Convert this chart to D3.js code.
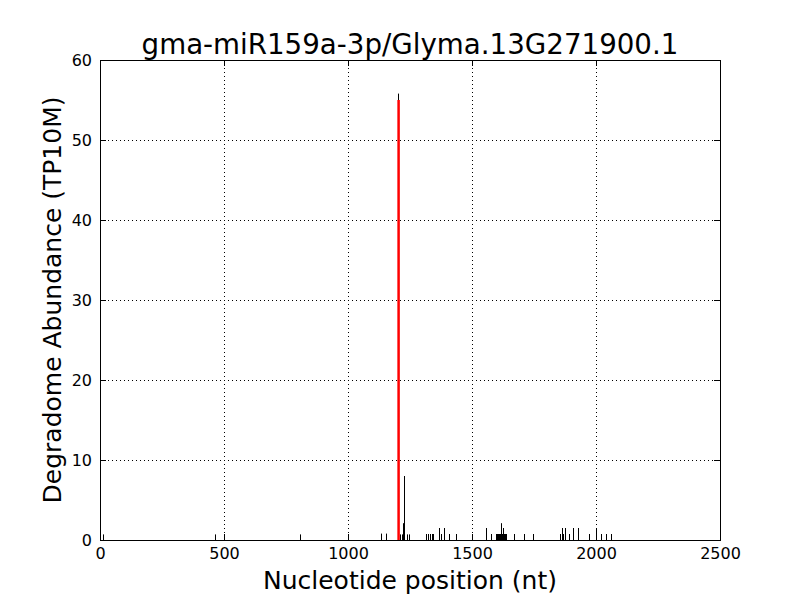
<!DOCTYPE html>
<html>
<head>
<meta charset="utf-8">
<script src="https://cdn.jsdelivr.net/npm/d3@7"></script>
<style>
  body { margin: 0; background: #fff; }
  text { font-family: "DejaVu Sans", sans-serif; fill: #000; }
</style>
</head>
<body>
<div id="chart"></div>
<script>
const TITLE = "gma-miR159a-3p/Glyma.13G271900.1";
const X_LABEL = "Nucleotide position (nt)";
const Y_LABEL = "Degradome Abundance (TP10M)";

const xTicks = [0, 500, 1000, 1500, 2000, 2500];
const yTicks = [0, 10, 20, 30, 40, 50, 60];

// degradome read positions (nt) and abundance (TP10M)
const positions = [12, 464, 806, 1133, 1152, 1202, 1210, 1218, 1222, 1225, 1227, 1237, 1247,
    1315, 1323, 1331, 1339, 1344, 1367, 1375, 1387, 1407, 1434,
    1556, 1577, 1597, 1601, 1605, 1609, 1613, 1617, 1621, 1626, 1630, 1634, 1638,
    1669, 1711, 1747, 1855, 1862, 1867, 1875, 1892, 1907, 1927, 1970, 2002, 2020, 2042, 2060];
const abundance = [0.7, 0.7, 0.7, 0.8, 0.8, 55.8, 0.7, 0.7, 2.1, 3.5, 8.0, 0.7, 0.7,
    0.75, 0.75, 0.75, 0.75, 0.75, 1.5, 0.75, 1.5, 0.75, 0.75,
    1.5, 0.75, 0.75, 0.75, 0.75, 0.75, 0.75, 2.1, 0.75, 1.5, 0.75, 0.75, 0.75,
    0.75, 0.75, 0.75, 0.75, 1.5, 0.75, 1.5, 0.75, 1.5, 1.5, 0.75, 1.5, 0.75, 0.75, 0.75];

// predicted cleavage site
const sitePos = [1202];
const siteVal = [55];

const MARGIN = {top: 60, left: 100};
const width = 620, height = 480;

const root = d3.select("#chart").append("svg")
    .attr("width", 800)
    .attr("height", 600);

const svg = root.append("g")
    .attr("transform", "translate(" + MARGIN.left + "," + MARGIN.top + ")");

const x = d3.scaleLinear().domain([0, 2500]).range([0, width]);
const y = d3.scaleLinear().domain([0, 60]).range([height, 0]);

// grid
svg.append("g").selectAll("line")
    .data(xTicks.slice(1, -1))
    .enter().append("line")
    .attr("x1", d => Math.round(x(d)) + 0.5).attr("x2", d => Math.round(x(d)) + 0.5)
    .attr("y1", 0).attr("y2", height)
    .attr("stroke", "#000").attr("stroke-width", 1).attr("stroke-dasharray", "1,3");
svg.append("g").selectAll("line")
    .data(yTicks.slice(1, -1))
    .enter().append("line")
    .attr("y1", d => Math.round(y(d)) + 0.5).attr("y2", d => Math.round(y(d)) + 0.5)
    .attr("x1", 0).attr("x2", width)
    .attr("stroke", "#000").attr("stroke-width", 1).attr("stroke-dasharray", "1,3");

// bars
const reads = positions.map((p, i) => ({p, v: abundance[i]}));
svg.append("g").selectAll("line")
    .data(reads)
    .enter().append("line")
    .attr("x1", d => Math.round(x(d.p)) + 0.5)
    .attr("x2", d => Math.round(x(d.p)) + 0.5)
    .attr("y1", y(0))
    .attr("y2", d => y(d.v))
    .attr("stroke", "#000")
    .attr("stroke-width", 1);

svg.append("g").selectAll("line")
    .data(sitePos.map((p, i) => ({p, v: siteVal[i]})))
    .enter().append("line")
    .attr("x1", d => x(d.p) + 0.5)
    .attr("x2", d => x(d.p) + 0.5)
    .attr("y1", y(0))
    .attr("y2", d => y(d.v))
    .attr("stroke", "#ff0000")
    .attr("stroke-width", 2.5);

// axes (ticks pointing inward, classic style)
const tickLen = 6;
svg.append("g")
    .attr("transform", "translate(0," + height + ")")
    .call(d3.axisBottom(x).tickValues(xTicks).tickSize(-tickLen).tickPadding(8).tickFormat(d3.format("d")))
    .call(g => g.select(".domain").remove());
svg.append("g")
    .call(d3.axisTop(x).tickValues(xTicks).tickSize(-tickLen).tickFormat(""))
    .call(g => g.select(".domain").remove());
svg.append("g")
    .call(d3.axisLeft(y).tickValues(yTicks).tickSize(-tickLen).tickPadding(8).tickFormat(d3.format("d")))
    .call(g => g.select(".domain").remove());
svg.append("g")
    .attr("transform", "translate(" + width + ",0)")
    .call(d3.axisRight(y).tickValues(yTicks).tickSize(-tickLen).tickFormat(""))
    .call(g => g.select(".domain").remove());

svg.selectAll(".tick text")
    .style("font-family", "DejaVu Sans, sans-serif")
    .style("font-size", "16px");
svg.selectAll(".tick line").attr("stroke", "#000");

svg.append("rect")
    .attr("x", 0.5).attr("y", 0.5)
    .attr("width", width).attr("height", height)
    .attr("fill", "none").attr("stroke", "#000").attr("stroke-width", 1);

// labels
root.append("text")
    .attr("x", 410).attr("y", 54)
    .attr("text-anchor", "middle")
    .style("font-size", "27.7px")
    .text(TITLE);
root.append("text")
    .attr("x", 410).attr("y", 589)
    .attr("text-anchor", "middle")
    .style("font-size", "25px")
    .text(X_LABEL);
root.append("text")
    .attr("transform", "translate(61,300) rotate(-90)")
    .attr("text-anchor", "middle")
    .style("font-size", "25px")
    .text(Y_LABEL);
</script>
</body>
</html>
